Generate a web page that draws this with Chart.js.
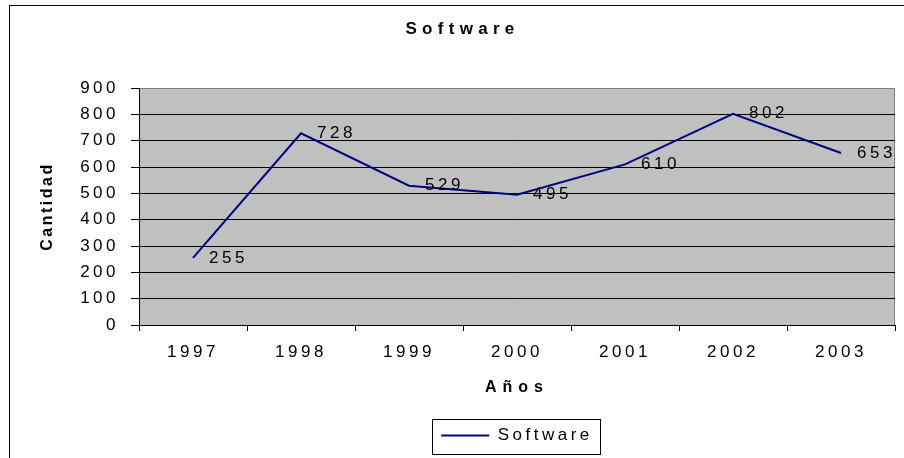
<!DOCTYPE html>
<html>
<head>
<meta charset="utf-8">
<script src="https://cdn.jsdelivr.net/npm/chart.js@4/dist/chart.umd.min.js"></script>
<style>
  html, body { margin: 0; padding: 0; background: #fff; overflow: hidden; }
  #frame { position: absolute; left: 9px; top: 5px; width: 1000px; height: 1000px; border: 1px solid #000; }
  #chart { position: absolute; left: 0; top: 0; }
</style>
</head>
<body>
<div id="frame"></div>
<canvas id="chart" width="904" height="458"></canvas>
<script>
// datos
const years = ['1997', '1998', '1999', '2000', '2001', '2002', '2003'];
const software = [255, 728, 529, 495, 610, 802, 653];
const yTicks = [0, 100, 200, 300, 400, 500, 600, 700, 800, 900];

const FONT = 'Liberation Sans, Arial, sans-serif';

// envuelve un metodo de dibujo para usar otro espaciado de letras
function withSpacing(obj, method, spacing) {
  if (!obj || obj['_sp_' + method]) return;
  const orig = obj[method];
  obj[method] = function (...args) {
    const ctx = this.ctx;
    const prev = ctx.letterSpacing;
    ctx.letterSpacing = spacing;
    orig.apply(this, args);
    ctx.letterSpacing = prev;
  };
  obj['_sp_' + method] = true;
}

const excelLook = {
  id: 'excelLook',
  beforeLayout(chart) {
    chart.ctx.letterSpacing = '3.5px';
  },
  afterUpdate(chart) {
    withSpacing(chart.titleBlock, 'draw', '5.3px');
    withSpacing(chart.scales.x, 'drawTitle', '6px');
    withSpacing(chart.scales.y, 'drawTitle', '2.5px');
  },
  beforeDraw(chart) {
    const { ctx, chartArea: a } = chart;
    ctx.letterSpacing = '3.5px';
    ctx.save();
    ctx.fillStyle = '#c0c0c0';
    ctx.fillRect(a.left, a.top, a.right - a.left, a.bottom - a.top);
    ctx.strokeStyle = '#808080';
    ctx.lineWidth = 1;
    ctx.beginPath();
    ctx.moveTo(a.left, a.top + 0.5);
    ctx.lineTo(a.right - 0.5, a.top + 0.5);
    ctx.lineTo(a.right - 0.5, a.bottom);
    ctx.stroke();
    ctx.restore();
  },
  afterDatasetsDraw(chart) {
    const { ctx } = chart;
    const meta = chart.getDatasetMeta(0);
    ctx.save();
    ctx.font = '17px ' + FONT;
    ctx.fillStyle = '#000';
    ctx.textAlign = 'left';
    ctx.textBaseline = 'middle';
    meta.data.forEach((pt, i) => {
      ctx.fillText(String(software[i]), pt.x + 16, pt.y);
    });
    ctx.restore();
  },
  afterDraw(chart) {
    const box = chart.legend && chart.legend.legendHitBoxes[0];
    if (!box) return;
    const { ctx } = chart;
    ctx.save();
    ctx.strokeStyle = '#000';
    ctx.lineWidth = 1;
    const l = Math.round(box.left - 9) + 0.5;
    const t = Math.round(box.top - 8) + 0.5;
    const r = Math.round(box.left + box.width + 7) + 0.5;
    const b = Math.round(box.top + box.height + 10) + 0.5;
    ctx.strokeRect(l, t, r - l, b - t);
    ctx.restore();
  }
};

new Chart(document.getElementById('chart'), {
  type: 'line',
  data: {
    labels: years,
    datasets: [{
      label: 'Software',
      data: software,
      borderColor: '#000080',
      backgroundColor: '#000080',
      borderWidth: 2,
      pointRadius: 0,
      tension: 0,
      fill: false
    }]
  },
  plugins: [excelLook],
  options: {
    responsive: false,
    animation: false,
    devicePixelRatio: 1,
    layout: { padding: { left: 30, right: 9, top: 0, bottom: 4 } },
    plugins: {
      title: {
        display: true,
        text: 'Software',
        color: '#000',
        font: { family: FONT, size: 17, weight: 'bold', lineHeight: 1.2 },
        padding: { top: 19, bottom: 48.6 }
      },
      legend: {
        display: true,
        position: 'bottom',
        fullSize: false,
        labels: {
          usePointStyle: true,
          pointStyle: 'line',
          pointStyleWidth: 48,
          color: '#000',
          padding: 10,
          font: { family: FONT, size: 17 }
        }
      },
      tooltip: { enabled: false }
    },
    scales: {
      x: {
        type: 'category',
        offset: true,
        afterFit: s => { s.height = 92; },
        grid: {
          offset: true,
          drawOnChartArea: false,
          drawTicks: true,
          tickLength: 6,
          color: '#000'
        },
        border: { color: '#000', width: 1 },
        ticks: {
          color: '#000',
          padding: 11,
          maxRotation: 0,
          font: { family: FONT, size: 17 }
        },
        title: {
          display: true,
          text: 'Años',
          color: '#000',
          font: { family: FONT, size: 16, weight: 'bold', lineHeight: 1.2 },
          padding: { top: 0, bottom: 19.4 }
        }
      },
      y: {
        min: 0,
        max: 900,
        afterFit: s => { s.width = 109; },
        afterBuildTicks: s => { s.ticks = yTicks.map(v => ({ value: v })); },
        grid: {
          color: c => (c.tick && c.tick.value === 900 ? '#808080' : '#000'),
          lineWidth: 1,
          drawTicks: true,
          tickLength: 8,
          tickColor: '#000'
        },
        border: { color: '#000', width: 1 },
        ticks: {
          color: '#000',
          padding: 12,
          font: { family: FONT, size: 17 }
        },
        title: {
          display: true,
          text: 'Cantidad',
          color: '#000',
          font: { family: FONT, size: 16, weight: 'bold', lineHeight: 1.2 },
          padding: { top: 8.4, bottom: 0 }
        }
      }
    }
  }
});
</script>
</body>
</html>
